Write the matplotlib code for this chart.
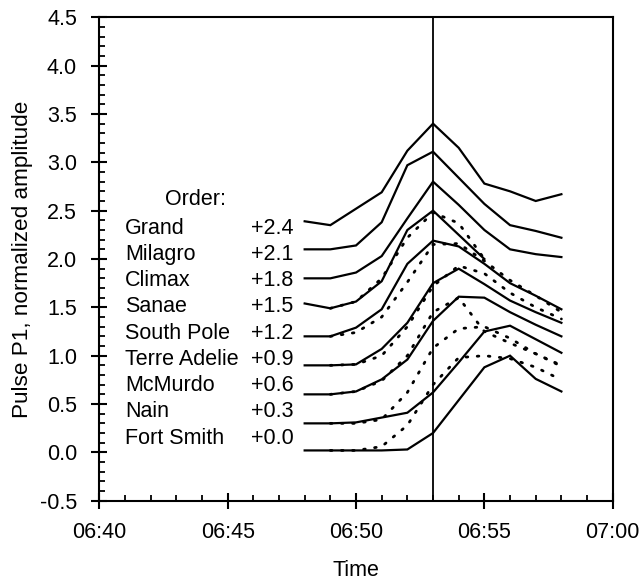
import matplotlib
matplotlib.use("Agg")
import matplotlib.pyplot as plt
from matplotlib.ticker import MultipleLocator, FixedLocator

plt.rcParams['font.family'] = ['Liberation Sans', 'DejaVu Sans']

# time in minutes after 06:00
minutes = [48, 49, 50, 51, 52, 53, 54, 55, 56, 57, 58]

stations = ["Grand", "Milagro", "Climax", "Sanae", "South Pole",
            "Terre Adelie", "McMurdo", "Nain", "Fort Smith"]
offsets = ["+2.4", "+2.1", "+1.8", "+1.5", "+1.2", "+0.9", "+0.6", "+0.3", "+0.0"]

grand       = [2.39, 2.35, 2.52, 2.69, 3.12, 3.40, 3.15, 2.78, 2.70, 2.60, 2.67]
milagro     = [2.10, 2.10, 2.14, 2.38, 2.97, 3.11, 2.84, 2.57, 2.35, 2.29, 2.22]
climax      = [1.80, 1.80, 1.86, 2.03, 2.42, 2.80, 2.56, 2.30, 2.10, 2.05, 2.02]
sanae       = [1.54, 1.49, 1.56, 1.77, 2.30, 2.50, 2.25, 2.00]
south_pole  = [1.20, 1.20, 1.29, 1.48, 1.95, 2.19, 2.13, 1.95, 1.75, 1.62, 1.48]
terre_adel  = [0.90, 0.90, 0.91, 1.07, 1.34, 1.75, 1.90, 1.74, 1.57, 1.45, 1.34]
mcmurdo     = [0.60, 0.60, 0.63, 0.755, 0.96, 1.36, 1.61, 1.60, 1.45, 1.32, 1.20]
nain        = [0.30, 0.30, 0.31, 0.36, 0.41, 0.62, 0.93, 1.25, 1.31, 1.17, 1.03]
fort_smith  = [0.02, 0.02, 0.02, 0.02, 0.03, 0.20, 0.54, 0.88, 1.00, 0.76, 0.63]

# dotted companion curves (start 06:49)
dot_minutes = [49, 50, 51, 52, 53, 54, 55, 56, 57, 58]
sanae_dot      = [1.49, 1.56, 1.80, 2.22, 2.48, 2.37, 2.00]
south_pole_dot = [1.20, 1.24, 1.40, 1.76, 2.15, 2.16, 1.98, 1.78, 1.62, 1.45]
terre_adel_dot = [0.90, 0.91, 1.00, 1.30, 1.72, 1.93, 1.85, 1.65, 1.50, 1.38]
mcmurdo_dot    = [0.60, 0.63, 0.74, 1.00, 1.45, 1.60, 1.25, 1.13, 1.02, 0.90]
nain_dot       = [0.30, 0.30, 0.34, 0.62, 1.08, 1.28, 1.30, 1.18, 1.02, 0.89]
fort_smith_dot = [0.02, 0.02, 0.06, 0.28, 0.70, 0.98, 1.00, 0.97, 0.88, 0.75]

event_minute = 53

xtick_pos = [40, 45, 50, 55, 60]
xtick_labels = ["06:40", "06:45", "06:50", "06:55", "07:00"]

fig = plt.figure(figsize=(6.41, 5.80), dpi=100)
ax = fig.add_axes([0.1549, 0.1367, 0.8010, 0.8335])

solid = [grand, milagro, climax, sanae, south_pole, terre_adel, mcmurdo, nain, fort_smith]
for s in solid:
    ax.plot(minutes[:len(s)], s, color='black', lw=1.6, solid_joinstyle='miter')

dotted = [sanae_dot, south_pole_dot, terre_adel_dot, mcmurdo_dot, nain_dot, fort_smith_dot]
for d in dotted:
    ax.plot(dot_minutes[:len(d)], d, color='black', lw=2.0, linestyle=(0, (0.6, 3.4)),
            dash_capstyle='round')

ax.axvline(event_minute, color='black', lw=1.3)

ax.set_xlim(40, 60)
ax.set_ylim(-0.5, 4.5)
ax.xaxis.set_major_locator(FixedLocator(xtick_pos))
ax.set_xticklabels(xtick_labels)
ax.xaxis.set_minor_locator(MultipleLocator(1))
ax.yaxis.set_major_locator(MultipleLocator(0.5))
ax.yaxis.set_minor_locator(MultipleLocator(0.1))
ax.yaxis.set_major_formatter(plt.FuncFormatter(lambda v, p: f"{v:.1f}"))

ax.tick_params(which='major', direction='inout', length=12, width=1.5, labelsize=15.5)
ax.tick_params(axis='x', which='major', pad=9.5)
ax.tick_params(axis='y', which='major', pad=10)
ax.tick_params(which='minor', direction='in', length=4.5, width=1.3)
ax.tick_params(top=False, right=False, which='both')
for sp in ax.spines.values():
    sp.set_linewidth(1.5)

ax.set_xlabel("Time", fontsize=15.5, labelpad=12)
ax.set_ylabel("Pulse P1, normalized amplitude", fontsize=16.2, labelpad=5)

# "Order" legend text
ax.text(42.56, 2.62, "Order:", fontsize=15.5, va='center', ha='left')
for i, (name, off) in enumerate(zip(stations, offsets)):
    y = 2.32 - 0.2715 * i
    ax.text(41.0, y, name, fontsize=15.5, va='center', ha='left')
    ax.text(45.9, y, off, fontsize=15.5, va='center', ha='left')

fig.savefig("out.png", dpi=100)
